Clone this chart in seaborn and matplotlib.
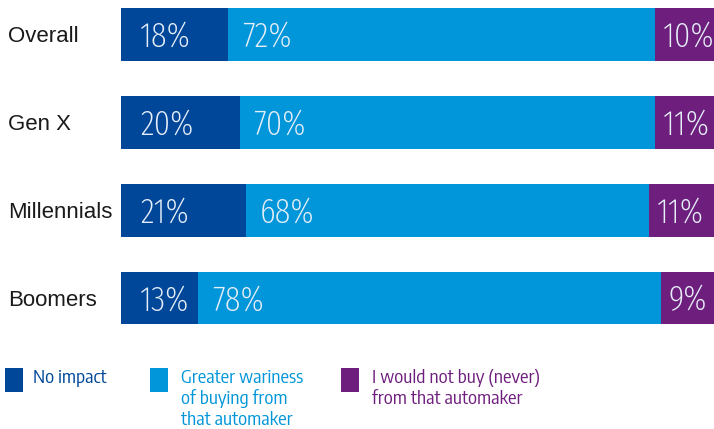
import os
import numpy as np
import pandas as pd
import seaborn as sns
import matplotlib.pyplot as plt
from matplotlib import font_manager as fm
from matplotlib.patches import Rectangle

# Survey responses by generation (% of respondents)
categories = ["Overall", "Gen X", "Millennials", "Boomers"]
no_impact = [18, 20, 21, 13]
wariness = [72, 70, 68, 78]
never_buy = [10, 11, 11, 9]
series_labels = [
    "No impact",
    "Greater wariness\nof buying from\nthat automaker",
    "I would not buy (never)\nfrom that automaker",
]

DARK = "#00479a"
LIGHT = "#0096d9"
PURPLE = "#6e1f7d"
colors = [DARK, LIGHT, PURPLE]


def find_font(patterns):
    """Return the first installed font file whose name contains a pattern."""
    files = sorted({f.fname for f in fm.fontManager.ttflist})
    for pat in patterns:
        for path in files:
            base = os.path.basename(path).replace("-", "").replace("_", "").lower()
            if pat.lower() in base and "italic" not in base:
                return path
    return None


thin_file = find_font(["SansExtraCondensedExtraLight", "SansExtraCondensedThin",
                       "SansExtraCondensedLight", "ExtraCondensedLight",
                       "SansCondensedLight", "CondensedLight",
                       "ExtraCondensed", "Condensed", "Narrow"])
narrow_file = find_font(["SansCondensedRegular", "SansSemiCondensedRegular",
                         "CondensedRegular", "SemiCondensedRegular",
                         "SansCondensed", "Narrow"])

sns.set_theme(style="white")
plt.rcParams["font.family"] = ["Liberation Sans", "DejaVu Sans"]

if thin_file:
    pct_font = fm.FontProperties(fname=thin_file, size=25.5)
else:
    pct_font = fm.FontProperties(family="DejaVu Sans", size=18)
if narrow_file:
    leg_font = fm.FontProperties(fname=narrow_file, size=13.5)
else:
    leg_font = fm.FontProperties(family="DejaVu Sans", size=11.5)

fig = plt.figure(figsize=(7.14, 4.29), dpi=100)
ax = fig.add_axes([121 / 714, 87 / 429, 593 / 714, 342 / 429])

df = pd.DataFrame({
    "category": categories,
    "first": np.array(no_impact),
    "second": np.array(no_impact) + np.array(wariness),
    "third": np.array(no_impact) + np.array(wariness) + np.array(never_buy),
})

# Stacked bars: draw cumulative totals from the longest to the shortest
for col, color in [("third", PURPLE), ("second", LIGHT), ("first", DARK)]:
    sns.barplot(data=df, x=col, y="category", orient="h", color=color,
                saturation=1, width=0.6, linewidth=0, ax=ax)

ax.set_xlim(0, 100)
ax.set_ylim(3.5, -0.392)
ax.set_xlabel("")
ax.set_ylabel("")
ax.set_xticks([])
for s in ax.spines.values():
    s.set_visible(False)

ax.tick_params(axis="y", length=0, pad=81.4, labelsize=16, labelcolor="#1a1a1a")
for lab in ax.get_yticklabels():
    lab.set_ha("left")

# Percentage labels inside each segment
pad_px = [19, 14, 8]
for i in range(len(categories)):
    vals = [no_impact[i], wariness[i], never_buy[i]]
    starts = [0, no_impact[i], no_impact[i] + wariness[i]]
    for j in range(3):
        ax.annotate(f"{vals[j]}%", xy=(starts[j], i),
                    xytext=(pad_px[j] * 0.72, -12.5 * 0.72),
                    textcoords="offset points",
                    ha="left", va="baseline", color="#e6eef8",
                    fontproperties=pct_font)

# Legend: swatch plus coloured label, first line level with the swatch top
W, H = 714, 429
line_px = 21
legend_x = [(5, 33), (150, 181), (341, 372)]
for (sx, tx), color, label in zip(legend_x, colors, series_labels):
    fig.patches.append(Rectangle((sx / W, 1 - 392 / H), 18 / W, 24 / H,
                                 transform=fig.transFigure, facecolor=color,
                                 edgecolor="none"))
    n_lines = label.count("\n")
    fig.text(tx / W, 1 - (383 + n_lines * line_px) / H, label, color=color,
             ha="left", va="baseline", fontproperties=leg_font,
             linespacing=1.18)

fig.savefig("out.png", dpi=100)
